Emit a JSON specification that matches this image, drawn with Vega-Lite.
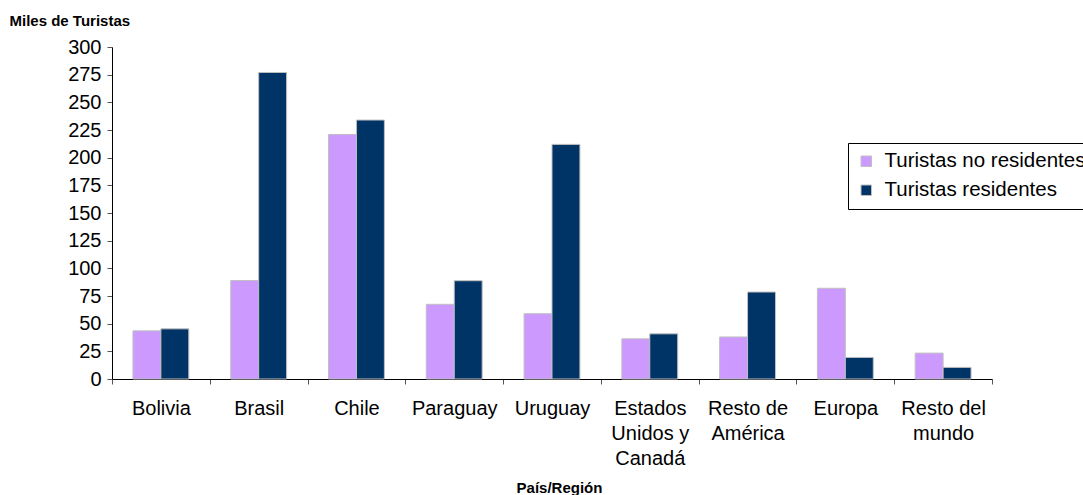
{
  "$schema": "https://vega.github.io/schema/vega-lite/v6.json",
  "autosize": "none",
  "width": 880,
  "height": 332,
  "padding": {"left": 112, "top": 47, "right": 91, "bottom": 116},
  "background": "white",
  "config": {
    "font": "Liberation Sans",
    "view": {"stroke": null}
  },
  "data": {
    "values": [
      {"region": "Bolivia", "tipo": "Turistas no residentes", "miles": 43.5},
      {"region": "Bolivia", "tipo": "Turistas residentes", "miles": 45.3},
      {"region": "Brasil", "tipo": "Turistas no residentes", "miles": 89},
      {"region": "Brasil", "tipo": "Turistas residentes", "miles": 277},
      {"region": "Chile", "tipo": "Turistas no residentes", "miles": 221},
      {"region": "Chile", "tipo": "Turistas residentes", "miles": 234},
      {"region": "Paraguay", "tipo": "Turistas no residentes", "miles": 67.5},
      {"region": "Paraguay", "tipo": "Turistas residentes", "miles": 88.8},
      {"region": "Uruguay", "tipo": "Turistas no residentes", "miles": 59},
      {"region": "Uruguay", "tipo": "Turistas residentes", "miles": 212},
      {"region": "Estados Unidos y Canadá", "tipo": "Turistas no residentes", "miles": 36.3},
      {"region": "Estados Unidos y Canadá", "tipo": "Turistas residentes", "miles": 40.8},
      {"region": "Resto de América", "tipo": "Turistas no residentes", "miles": 38},
      {"region": "Resto de América", "tipo": "Turistas residentes", "miles": 78.6},
      {"region": "Europa", "tipo": "Turistas no residentes", "miles": 82},
      {"region": "Europa", "tipo": "Turistas residentes", "miles": 19.5},
      {"region": "Resto del mundo", "tipo": "Turistas no residentes", "miles": 23.4},
      {"region": "Resto del mundo", "tipo": "Turistas residentes", "miles": 10.5}
    ]
  },
  "mark": {"type": "bar", "stroke": "#c0c0c0", "strokeWidth": 1},
  "encoding": {
    "x": {
      "field": "region",
      "type": "nominal",
      "sort": ["Bolivia", "Brasil", "Chile", "Paraguay", "Uruguay", "Estados Unidos y Canadá", "Resto de América", "Europa", "Resto del mundo"],
      "scale": {"paddingInner": 0, "paddingOuter": 0},
      "axis": {
        "title": "País/Región",
        "titleFont": "Liberation Sans",
        "titleFontSize": 15,
        "titleFontWeight": "bold",
        "titleColor": "black",
        "titleX": 447,
        "titleY": 108,
        "titleBaseline": "middle",
        "titleAlign": "center",
        "labelAngle": 0,
        "labelFontSize": 20,
        "labelColor": "black",
        "labelBaseline": "top",
        "labelPadding": 14,
        "labelLineHeight": 25,
        "labelExpr": "datum.value == 'Estados Unidos y Canadá' ? ['Estados', 'Unidos y', 'Canadá'] : datum.value == 'Resto de América' ? ['Resto de', 'América'] : datum.value == 'Resto del mundo' ? ['Resto del', 'mundo'] : datum.value",
        "tickBand": "extent",
        "tickSize": 5,
        "tickColor": "#555555",
        "domainColor": "black",
        "domainWidth": 1,
        "grid": false
      }
    },
    "xOffset": {
      "field": "tipo",
      "type": "nominal",
      "sort": ["Turistas no residentes", "Turistas residentes"],
      "scale": {"paddingInner": 0, "paddingOuter": 0.75}
    },
    "y": {
      "field": "miles",
      "type": "quantitative",
      "scale": {"domain": [0, 300], "nice": false},
      "axis": {
        "title": "Miles de Turistas",
        "titleFontSize": 15,
        "titleFontWeight": "bold",
        "titleColor": "black",
        "titleAngle": 0,
        "titleX": -103,
        "titleY": -27,
        "titleAlign": "left",
        "titleBaseline": "middle",
        "values": [0, 25, 50, 75, 100, 125, 150, 175, 200, 225, 250, 275, 300],
        "labelFontSize": 20,
        "labelColor": "black",
        "labelPadding": 6,
        "tickSize": 5,
        "tickColor": "#555555",
        "domainColor": "black",
        "grid": false
      }
    },
    "color": {
      "field": "tipo",
      "type": "nominal",
      "scale": {"domain": ["Turistas no residentes", "Turistas residentes"], "range": ["#cc99ff", "#003366"]},
      "legend": {
        "title": null,
        "orient": "none",
        "legendX": 736,
        "legendY": 96,
        "symbolType": "square",
        "symbolSize": 110,
        "symbolStrokeColor": "#c0c0c0",
        "symbolStrokeWidth": 1,
        "labelFontSize": 20.5,
        "labelColor": "black",
        "labelOffset": 8,
        "labelLimit": 300,
        "rowPadding": 8,
        "strokeColor": "black",
        "fillColor": "white",
        "padding": 8
      }
    }
  }
}
